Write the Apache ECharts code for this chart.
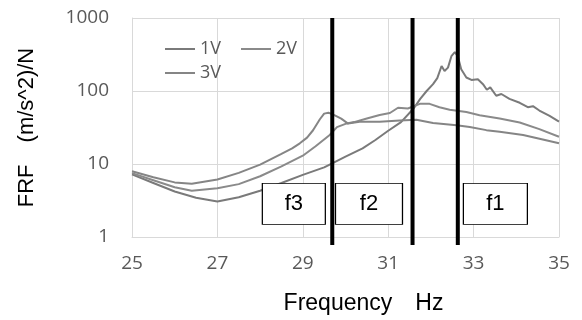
<!DOCTYPE html>
<html>
<head>
<meta charset="utf-8">
<script src="https://cdn.jsdelivr.net/npm/echarts@6/dist/echarts.min.js"></script>
<style>html,body{margin:0;padding:0;background:#fff}#c{width:582px;height:320px}</style>
</head>
<body>
<div id="c"></div>
<script>
// ---- data ----
const xTicks = [25, 27, 29, 31, 33, 35];
const yTicks = [1, 10, 100, 1000];

const freq1V = [25, 25.5, 26, 26.5, 27, 27.5, 28, 28.5, 29, 29.5, 29.7, 30, 30.4, 30.7, 31, 31.3, 31.6, 31.75, 31.9, 32.05, 32.15, 32.25, 32.32, 32.4, 32.48, 32.56, 32.63, 32.71, 32.83, 32.95, 33.1, 33.22, 33.31, 33.39, 33.53, 33.65, 33.84, 34.08, 34.27, 34.39, 34.54, 34.78, 35];
const frf1V  = [7.2, 5.5, 4.2, 3.45, 3.06, 3.5, 4.3, 5.5, 7.1, 9.0, 10.3, 12.6, 16.4, 21.3, 28.5, 37.5, 58, 78, 100, 124, 150, 220, 188, 209, 300, 340, 300, 198, 153, 142, 145, 124, 104, 112, 86, 91, 78, 69, 60, 62, 54, 45.5, 38];

const freq2V = [25, 25.5, 26, 26.4, 27, 27.5, 28, 28.5, 29, 29.3, 29.63, 29.8, 30.0, 30.2, 30.5, 30.8, 31.04, 31.23, 31.46, 31.74, 31.97, 32.2, 32.44, 32.83, 33.14, 33.61, 34.08, 34.54, 35];
const frf2V  = [7.5, 6.0, 4.8, 4.3, 4.64, 5.3, 6.8, 9.3, 13.0, 17.5, 25, 32, 35.5, 37.5, 42, 47, 50, 59, 57.5, 66.7, 66.7, 60, 55.4, 51.5, 46.5, 42, 37, 30, 23.6];

const freq3V = [25, 25.5, 26, 26.4, 27, 27.5, 28, 28.5, 28.75, 28.93, 29.1, 29.24, 29.4, 29.5, 29.6, 29.75, 29.9, 30.06, 30.33, 30.8, 31.27, 31.66, 32.05, 32.6, 32.91, 33.3, 33.61, 34.16, 34.62, 35];
const frf3V  = [7.96, 6.6, 5.6, 5.37, 6.14, 7.56, 9.8, 13.8, 16.4, 19.2, 23, 29, 41, 49, 50.5, 46.4, 41.8, 35.8, 37.8, 37.8, 39.5, 40.5, 36.5, 34, 32.2, 29.1, 27.6, 24.9, 21.7, 19.2];

const seriesNames = ['1V', '2V', '3V'];

// resonance marker lines (Hz) and their labels
const markerFreqs = [29.69, 31.57, 32.63];
const boxLabels = ['f3', 'f2', 'f1'];
const boxFreqs = [28.79, 30.55, 33.51];
const boxFRF = [2.84, 2.84, 2.84];

// ---- styles (kept separate from data) ----
const boxWidths = [63, 67, 64];
const curveColors = ['#7a7a7a', '#8a8a8a', '#858585'];
const tickFont = 'Open Sans';
const tickColor = '#595959';
const gridColor = '#d9d9d9';

const zip = (xs, ys) => xs.map((x, i) => [x, ys[i]]);

const curveSeries = [
  [freq1V, frf1V], [freq2V, frf2V], [freq3V, frf3V]
].map((d, i) => ({
  name: seriesNames[i],
  type: 'line',
  data: zip(d[0], d[1]),
  showSymbol: false,
  symbol: 'none',
  lineStyle: { width: 2, color: curveColors[i] },
  itemStyle: { color: curveColors[i] },
  z: 2
}));

const markerSeries = markerFreqs.map(f => ({
  type: 'line',
  data: [[f, 0.78], [f, 1000]],
  showSymbol: false,
  symbol: 'none',
  clip: false,
  silent: true,
  lineStyle: { width: 4, color: '#000' },
  z: 4
}));

const boxSeries = {
  type: 'scatter',
  data: boxFreqs.map((f, i) => ({ value: [f, boxFRF[i]], name: boxLabels[i] })),
  symbol: 'rect',
  symbolSize: (v, p) => [boxWidths[p.dataIndex], 41],
  itemStyle: { color: '#fff', borderColor: '#000', borderWidth: 1, opacity: 1 },
  label: {
    show: true, position: 'inside', formatter: p => p.name,
    fontFamily: 'Liberation Sans', fontSize: 22, color: '#000'
  },
  silent: true,
  z: 5
};

const chart = echarts.init(document.getElementById('c'), null, { renderer: 'canvas' });
chart.setOption({
  animation: false,
  backgroundColor: '#fff',
  grid: { left: 132, right: 23, top: 18, bottom: 80, containLabel: false },
  legend: [
    {
      data: ['1V', '2V'], left: 160, top: 35, icon: 'rect', itemWidth: 30, itemHeight: 2, itemGap: 20,
      textStyle: { fontFamily: tickFont, fontSize: 18, color: tickColor }
    },
    {
      data: ['3V'], left: 160, top: 59, icon: 'rect', itemWidth: 30, itemHeight: 2,
      textStyle: { fontFamily: tickFont, fontSize: 18, color: tickColor }
    }
  ],
  xAxis: {
    type: 'value', min: xTicks[0], max: xTicks[xTicks.length - 1], interval: 2,
    name: 'Frequency\u3000Hz', nameLocation: 'middle', nameGap: 55,
    nameTextStyle: { fontFamily: 'Liberation Sans', fontSize: 23, color: '#000', padding: [0, 0, 0, 36] },
    axisLine: { show: true, lineStyle: { color: gridColor, width: 1 } },
    axisTick: { show: false },
    axisLabel: { margin: 17, fontFamily: tickFont, fontSize: 19, color: tickColor, formatter: v => String(v) },
    splitLine: { show: true, lineStyle: { color: gridColor, width: 1 } }
  },
  yAxis: {
    type: 'log', logBase: 10, min: yTicks[0], max: yTicks[yTicks.length - 1],
    name: 'FRF\u3000(m/s^2)/N', nameLocation: 'middle', nameGap: 94,
    nameTextStyle: { fontFamily: 'Liberation Sans', fontSize: 22, color: '#000' },
    axisLine: { show: true, lineStyle: { color: gridColor, width: 1 } },
    axisTick: { show: false },
    axisLabel: { margin: 23, fontFamily: tickFont, fontSize: 19, color: tickColor, formatter: v => String(v) },
    splitLine: { show: true, lineStyle: { color: gridColor, width: 1 } }
  },
  series: [...curveSeries, ...markerSeries, boxSeries]
});
</script>
</body>
</html>
